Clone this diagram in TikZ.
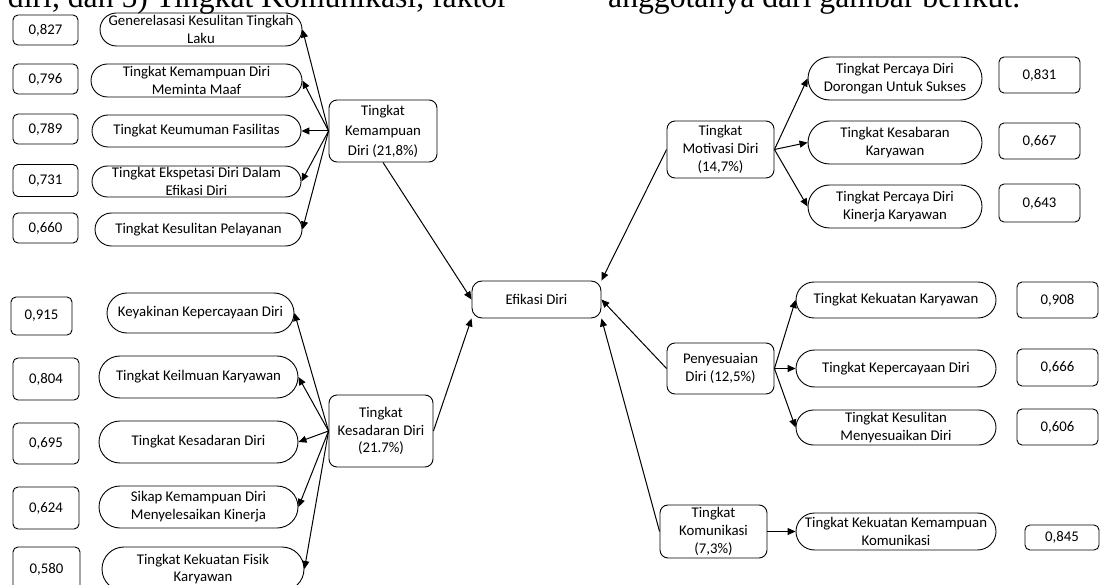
\documentclass[tikz,border=0pt]{standalone}
\usepackage{fontspec}
\setmainfont{Carlito}
\newfontfamily\bodyfont{Liberation Serif}
\usetikzlibrary{arrows.meta, shapes.misc}

\begin{document}
\begin{tikzpicture}[x=1pt, y=-1pt,
    every node/.style={font=\fontsize{14.8}{17.8}\selectfont, align=center, inner sep=1pt},
    ind/.style 2 args={draw, line width=0.9pt, rounded rectangle, minimum width=#1pt, minimum height=#2pt},
    valbox/.style 2 args={draw, line width=0.9pt, rounded corners=5pt, minimum width=#1pt, minimum height=#2pt},
    facbox/.style 2 args={draw, line width=0.9pt, rounded corners=8pt, minimum width=#1pt, minimum height=#2pt},
    arr/.style={line width=1pt, -{Triangle[length=8pt, width=7pt]}}]
    \useasboundingbox (0,0) rectangle (1100,585);
    % Running text above the figure
    \node[font=\bodyfont\fontsize{31.7}{38}\selectfont, anchor=base east, inner sep=0pt] (txtl) at (508,8) {diri, dan 5) Tingkat Komunikasi, faktor};
    \node[font=\bodyfont\fontsize{31.7}{38}\selectfont, anchor=base west, inner sep=0pt] (txtr) at (608,8) {anggotanya dari gambar berikut.};
    % Main node
    \node[draw, line width=0.9pt, rounded corners=10pt, minimum width=129pt, minimum height=37pt] (efikasi) at (536.5,299.5) {Efikasi Diri};
    % Factors
    \node[facbox={108}{62}, font=\fontsize{14.8}{20}\selectfont] (kemampuan) at (383,131) {Tingkat\\Kemampuan\\Diri (21,8\%)};
    \node[facbox={104}{72}] (kesadaran) at (381,431) {Tingkat\\Kesadaran Diri\\(21.7\%)};
    \node[facbox={107}{57}] (motivasi) at (720.5,149.5) {Tingkat\\Motivasi Diri\\(14,7\%)};
    \node[facbox={107}{51}] (penyesuaian) at (720.5,368.5) {Penyesuaian\\Diri (12,5\%)};
    \node[facbox={107}{53}] (komunikasi) at (713.5,531.5) {Tingkat\\Komunikasi\\(7,3\%)};
    % Indicators of Kemampuan Diri
    \node[ind={204}{33}] (a1) at (201,29.5) {Generelasasi Kesulitan Tingkah\\Laku};
    \node[ind={213}{33}] (a2) at (196.5,80.5) {Tingkat Kemampuan Diri\\Meminta Maaf};
    \node[ind={211}{32}] (a3) at (196.5,131) {Tingkat Keumuman Fasilitas};
    \node[ind={211}{31}] (a4) at (196.5,181.5) {Tingkat Ekspetasi Diri Dalam\\Efikasi Diri};
    \node[ind={209}{33}] (a5) at (198.5,229.5) {Tingkat Kesulitan Pelayanan};
    \node[valbox={65}{30}] (va1) at (45.5,30) {0,827};
    \node[valbox={65}{30}] (va2) at (45.5,79) {0,796};
    \node[valbox={65}{30}] (va3) at (45.5,129) {0,789};
    \node[valbox={65}{32}] (va4) at (45.5,180.5) {0,731};
    \node[valbox={65}{30}] (va5) at (45.5,228) {0,660};
    % Indicators of Kesadaran Diri
    \node[ind={189}{40}] (b1) at (200.5,313) {Keyakinan Kepercayaan Diri};
    \node[ind={201}{42}] (b2) at (198.5,377) {Tingkat Keilmuan Karyawan};
    \node[ind={201}{42}] (b3) at (198.5,442) {Tingkat Kesadaran Diri};
    \node[ind={201}{42}] (b4) at (198.5,507) {Sikap Kemampuan Diri\\Menyelesaikan Kinerja};
    \node[ind={204}{44}] (b5) at (203,569) {Tingkat Kekuatan Fisik\\Karyawan};
    \node[valbox={61}{38}] (vb1) at (41.5,316) {0,915};
    \node[valbox={66}{42}] (vb2) at (46,379) {0,804};
    \node[valbox={66}{41}] (vb3) at (46,443.5) {0,695};
    \node[valbox={66}{42}] (vb4) at (46,508) {0,624};
    \node[valbox={67}{44}] (vb5) at (46.5,569) {0,580};
    % Indicators of Motivasi Diri
    \node[ind={176}{43}] (c1) at (895,78.5) {Tingkat Percaya Diri\\Dorongan Untuk Sukses};
    \node[ind={176}{43}] (c2) at (895,142.5) {Tingkat Kesabaran\\Karyawan};
    \node[ind={176}{43}] (c3) at (895,206.5) {Tingkat Percaya Diri\\Kinerja Karyawan};
    \node[valbox={81}{36}] (vc1) at (1039.5,75) {0,831};
    \node[valbox={81}{36}] (vc2) at (1039.5,141) {0,667};
    \node[valbox={81}{38}] (vc3) at (1039.5,203) {0,643};
    % Indicators of Penyesuaian Diri
    \node[ind={202}{36}] (d1) at (896,300) {Tingkat Kekuatan Karyawan};
    \node[ind={202}{37}] (d2) at (896,368.5) {Tingkat Kepercayaan Diri};
    \node[ind={202}{35}] (d3) at (896,427.5) {Tingkat Kesulitan\\Menyesuaikan Diri};
    \node[valbox={81}{36}] (vd1) at (1057.5,300) {0,908};
    \node[valbox={81}{37}] (vd2) at (1057.5,367.5) {0,666};
    \node[valbox={81}{36}] (vd3) at (1057.5,427) {0,606};
    % Indicator of Komunikasi
    \node[ind={202}{37}] (e1) at (896,531.5) {Tingkat Kekuatan Kemampuan\\Komunikasi};
    \node[valbox={74}{25}] (ve1) at (1062,537.5) {0,845};
    % Arrows into Efikasi Diri
    \draw[arr] (kemampuan.south) -- (efikasi.west);
    \draw[arr] (kesadaran.east) -- (efikasi.south west);
    \draw[arr] (motivasi.west) -- (efikasi.north east);
    \draw[arr] (penyesuaian.west) -- (efikasi.east);
    \draw[arr] (komunikasi.west) -- (efikasi.south east);
    % Arrows to indicators
    \foreach \i in {1,...,5} {
        \draw[arr] (kemampuan.west) -- (a\i.east);
        \draw[arr] (kesadaran.west) -- (b\i.east);
    }
    \foreach \i in {1,2,3} {
        \draw[arr] (motivasi.east) -- (c\i.west);
        \draw[arr] (penyesuaian.east) -- (d\i.west);
    }
    \draw[arr] (komunikasi.east) -- (e1.west);
\end{tikzpicture}
\end{document}
